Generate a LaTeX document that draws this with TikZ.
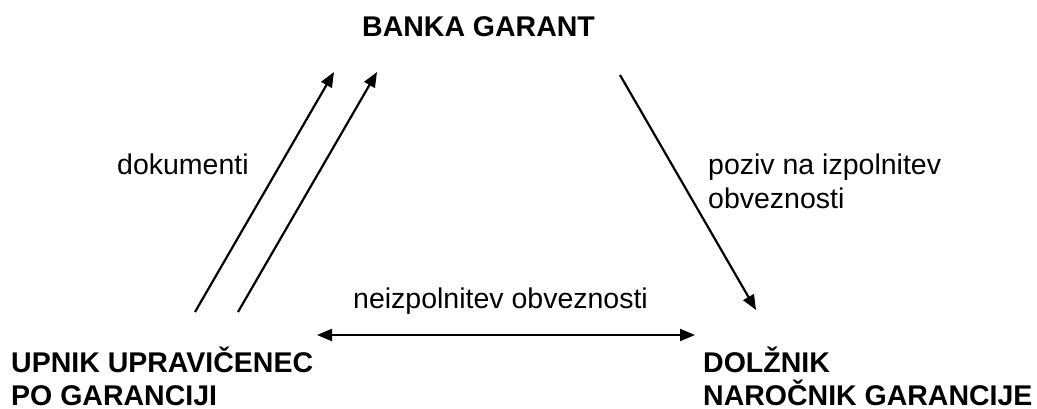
\documentclass[tikz,border=0pt]{standalone}
\usepackage{fontspec}
\setmainfont{Liberation Sans}
\usetikzlibrary{arrows.meta}
\tikzset{
  lbl/.style={inner sep=0pt, anchor=base west, font=\fontsize{28.5}{33}\selectfont},
  party/.style={lbl, font=\fontsize{28.5}{33}\selectfont\bfseries},
  tip/.tip={Triangle[length=15pt,width=12pt]},
  flow/.style={line width=2.2pt, -tip},
  both/.style={line width=2.2pt, tip-tip}
}
\begin{document}
\begin{tikzpicture}[x=1pt,y=-1pt]
\useasboundingbox (0,0) rectangle (1037,409);

% parties
\node[party] (bank) at (362,37) {BANKA GARANT};
\node[party] (upnikA) at (11,372) {UPNIK UPRAVIČENEC};
\node[party] (upnikB) at (11,405) {PO GARANCIJI};
\node[party] (dolznikA) at (703,372) {DOLŽNIK};
\node[party] (dolznikB) at (703,405) {NAROČNIK GARANCIJE};

% flow labels
\node[lbl] (dok) at (117,175) {dokumenti};
\node[lbl] (pozA) at (708,175) {poziv na izpolnitev};
\node[lbl] (pozB) at (708,208) {obveznosti};
\node[lbl] (neiz) at (353,308) {neizpolnitev obveznosti};

% arrow end points
\coordinate (d1s) at (195,312);
\coordinate (d1e) at (334,72);
\coordinate (d2s) at (238,312);
\coordinate (d2e) at (377,72);
\coordinate (ps) at (620,75);
\coordinate (pe) at (756,310);
\coordinate (nl) at (317,335);
\coordinate (nr) at (695,335);

\draw[flow] (d1s) -- (d1e);
\draw[flow] (d2s) -- (d2e);
\draw[flow] (ps) -- (pe);
\draw[both] (nl) -- (nr);
\end{tikzpicture}
\end{document}
